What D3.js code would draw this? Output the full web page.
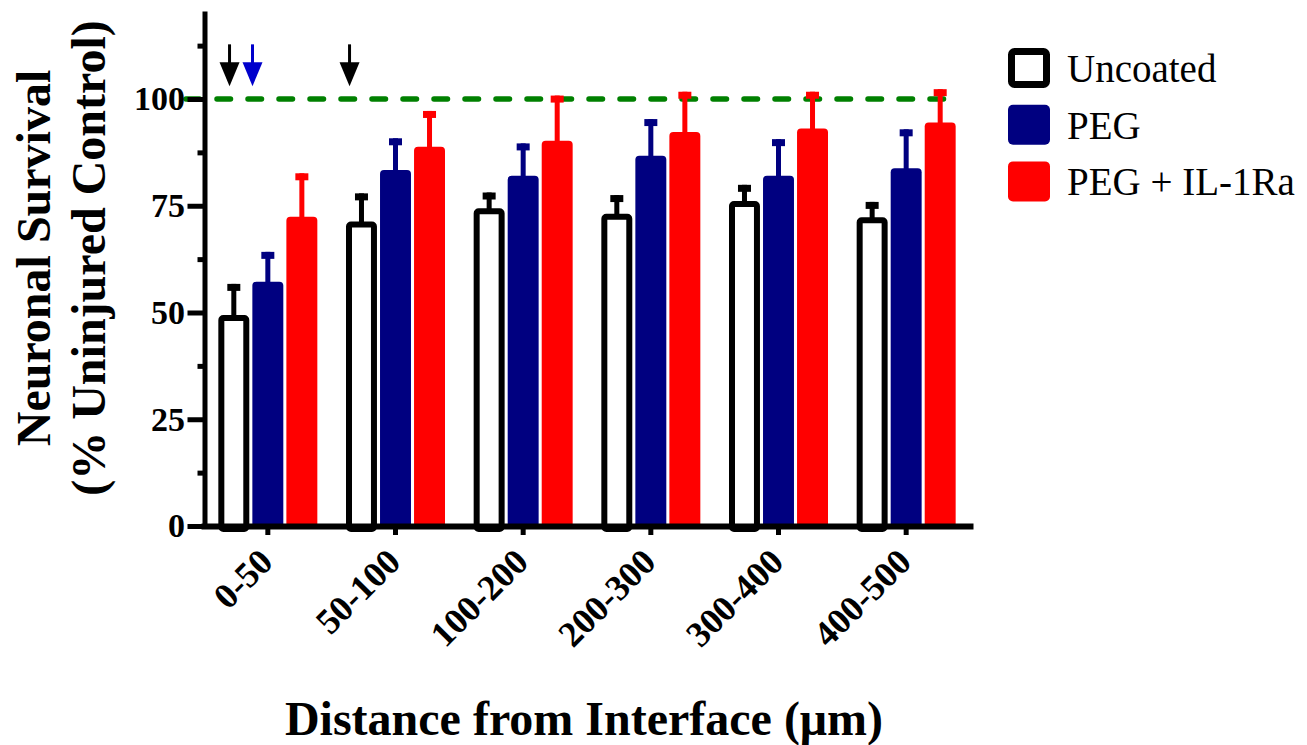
<!DOCTYPE html>
<html>
<head>
<meta charset="utf-8">
<script src="https://cdn.jsdelivr.net/npm/d3@7/dist/d3.min.js"></script>
<style>
  html, body { margin: 0; padding: 0; background: #fff; }
  svg { display: block; }
  text { font-family: "Liberation Serif", "Times New Roman", serif; }
</style>
</head>
<body>
<svg id="chart" width="1307" height="745"></svg>
<script>
// ---- data ----
const categories = ["0-50", "50-100", "100-200", "200-300", "300-400", "400-500"];
const seriesNames = ["Uncoated", "PEG", "PEG + IL-1Ra"];
const seriesColors = ["#000000", "#000080", "#ff0000"];
const uncoatedMean = [49.4, 71.3, 74.4, 73.1, 76.1, 72.3];
const uncoatedErr  = [7.3, 6.6, 3.7, 4.4, 3.8, 3.6];
const pegMean = [57.2, 83.4, 82.0, 86.7, 82.0, 83.8];
const pegErr  = [7.0, 7.4, 7.6, 8.6, 8.6, 9.1];
const ilMean = [72.4, 88.8, 90.2, 92.3, 93.1, 94.5];
const ilErr  = [10.2, 8.4, 10.6, 9.4, 8.6, 7.8];
const yMajorTicks = [0, 25, 50, 75, 100];
const yMinorTicks = [12.5, 37.5, 62.5, 87.5, 112.5];
const referenceLevel = 100;
// arrows: category, fractional position within its band, colour
const arrowCats = ["0-50", "0-50", "50-100"];
const arrowFrac = [0.2, 0.38, 0.14];
const arrowColors = ["#000000", "#0000cc", "#000000"];
const yTitleLines = ["Neuronal Survival", "(% Uninjured Control)"];
const xTitle = "Distance from Interface (\u03bcm)";

const means = [uncoatedMean, pegMean, ilMean];
const errs = [uncoatedErr, pegErr, ilErr];

// ---- layout ----
const svg = d3.select("#chart");
const x = d3.scaleBand().domain(categories).range([204, 970]).padding(0);
const xs = d3.scaleBand().domain(seriesNames).range([-49.5, 49.5]).paddingInner(0.09);
const y = d3.scaleLinear().domain([0, 120]).range([526, 13.6]);

// reference dashed line
svg.append("line")
  .attr("x1", 186).attr("x2", 948)
  .attr("y1", y(referenceLevel)).attr("y2", y(referenceLevel))
  .attr("stroke", "#008000").attr("stroke-width", 5.5)
  .attr("stroke-dasharray", "13.5,17.5").attr("stroke-linecap", "round");

// bars
const barData = [];
categories.forEach((c, i) => {
  seriesNames.forEach((s, j) => {
    barData.push({cat: c, ser: s, j: j, v: means[j][i], e: errs[j][i]});
  });
});

const gBars = svg.append("g");
barData.forEach(d => {
  const x0 = x(d.cat) + x.bandwidth() / 2 + xs(d.ser);
  const w = xs.bandwidth();
  const cx = x0 + w / 2;
  const top = y(d.v);
  const col = seriesColors[d.j];
  // error bar (upper only)
  const eTop = y(d.v + d.e);
  gBars.append("rect")
    .attr("x", cx - 2.5).attr("width", 5)
    .attr("y", eTop).attr("height", top - eTop + 2)
    .attr("fill", col);
  gBars.append("rect")
    .attr("x", cx - 6.5).attr("width", 13)
    .attr("y", eTop).attr("height", 7)
    .attr("fill", col);
  if (d.j === 0) {
    gBars.append("rect")
      .attr("x", x0 + 3).attr("width", w - 6)
      .attr("y", top + 3).attr("height", y(0) - top)
      .attr("rx", 2)
      .attr("fill", "#fff").attr("stroke", "#000").attr("stroke-width", 6);
  } else {
    gBars.append("rect")
      .attr("x", x0).attr("width", w)
      .attr("y", top).attr("height", y(0) - top + 2)
      .attr("rx", 4)
      .attr("fill", col);
  }
});

// arrows
arrowCats.forEach((c, i) => {
  const ax = x(c) + arrowFrac[i] * x.bandwidth();
  const tip = y(103);
  const tail = y(112.8);
  svg.append("line")
    .attr("x1", ax).attr("x2", ax).attr("y1", tail).attr("y2", tip - 10)
    .attr("stroke", arrowColors[i]).attr("stroke-width", 3);
  svg.append("path")
    .attr("d", `M${ax - 10},${tip - 24} L${ax + 10},${tip - 24} L${ax},${tip} Z`)
    .attr("fill", arrowColors[i]);
});

// y axis
const yAxis = svg.append("g").attr("transform", "translate(204.5,0)")
  .call(d3.axisLeft(y).tickValues(yMajorTicks).tickSize(17).tickSizeOuter(0).tickPadding(2.5).tickFormat(d3.format("d")));
yAxis.select(".domain").attr("stroke-width", 5).attr("stroke-linecap", "square");
yAxis.selectAll(".tick line").attr("stroke-width", 5);
yAxis.selectAll(".tick text")
  .attr("font-size", 34).attr("font-weight", "bold")
  .attr("font-family", "'Liberation Serif', 'Times New Roman', serif")
  .attr("fill", "#000");
const yMinor = svg.append("g").attr("transform", "translate(204.5,0)")
  .call(d3.axisLeft(y).tickValues(yMinorTicks).tickSize(7).tickFormat(""));
yMinor.select(".domain").remove();
yMinor.selectAll(".tick line").attr("stroke-width", 5);

// x axis
const xAxis = svg.append("g").attr("transform", `translate(0,${y(0)})`)
  .call(d3.axisBottom(x).tickSize(9).tickSizeOuter(0));
xAxis.select(".domain").attr("stroke-width", 6).attr("stroke-linecap", "square");
xAxis.selectAll(".tick line").attr("stroke-width", 5);
xAxis.selectAll(".tick text")
  .attr("font-size", 36).attr("font-weight", "bold")
  .attr("font-family", "'Liberation Serif', 'Times New Roman', serif")
  .attr("fill", "#000")
  .attr("text-anchor", "end")
  .attr("y", 0).attr("dy", 0)
  .attr("transform", "translate(7,38) rotate(-45)");

// axis titles
yTitleLines.forEach((t, i) => {
  svg.append("text")
    .attr("transform", `translate(${50 + i * 55},258) rotate(-90)`)
    .attr("text-anchor", "middle")
    .attr("font-size", 48).attr("font-weight", "bold")
    .text(t);
});
svg.append("text")
  .attr("x", 584).attr("y", 735)
  .attr("text-anchor", "middle")
  .attr("font-size", 48).attr("font-weight", "bold")
  .text(xTitle);

// legend
const leg = svg.append("g").attr("transform", "translate(1008,48)");
seriesNames.forEach((s, i) => {
  const g = leg.append("g").attr("transform", `translate(0,${i * 56.7})`);
  if (i === 0) {
    g.append("rect").attr("x", 3.5).attr("y", 3.5).attr("width", 35).attr("height", 33)
      .attr("rx", 3).attr("fill", "#fff").attr("stroke", "#000").attr("stroke-width", 7);
  } else {
    g.append("rect").attr("x", 0).attr("y", 0).attr("width", 42).attr("height", 40)
      .attr("rx", 5).attr("fill", seriesColors[i]);
  }
  g.append("text").attr("x", 59).attr("y", 34)
    .attr("font-size", 39).attr("fill", "#000").text(s);
});
</script>
</body>
</html>
